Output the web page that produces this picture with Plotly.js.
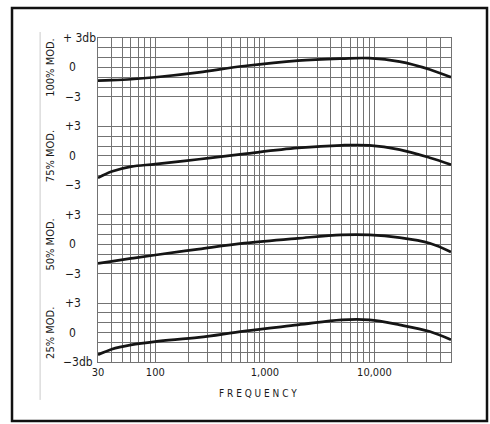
<!DOCTYPE html>
<html>
<head>
<meta charset="utf-8">
<script src="https://cdn.plot.ly/plotly-3.0.1.min.js"></script>
<style>html,body{margin:0;padding:0;background:#fff;}#chart{width:490px;height:424px;}</style>
</head>
<body>
<div id="chart"></div>
<script>
// ---- data ----
var frequency = [30, 40, 60, 100, 250, 650, 2000, 5000, 9000, 17000, 32000, 50000];
var mod100 = [-1.35, -1.3, -1.2, -1.0, -0.5, 0.15, 0.7, 0.9, 0.95, 0.6, -0.2, -1.0];
var mod75  = [-2.25, -1.6, -1.1, -0.85, -0.35, 0.2, 0.8, 1.07, 1.07, 0.63, -0.2, -0.9];
var mod50  = [-1.95, -1.75, -1.45, -1.1, -0.5, 0.1, 0.6, 0.95, 0.95, 0.67, 0.1, -0.8];
var mod25  = [-2.27, -1.7, -1.26, -0.92, -0.5, 0.15, 0.78, 1.29, 1.29, 0.78, 0.1, -0.74];
var panelNames = ['100% MOD.', '75% MOD.', '50% MOD.', '25% MOD.'];
var xTickVals = [30, 100, 1000, 10000];
var xTickText = ['30', '100', '1,000', '10,000'];
var dbLevels = [3, 0, -3];
var dbLabels = [['+ 3db', '0', '\u22123'], ['+3', '0', '\u22123'], ['+3', '0', '\u22123'], ['+3', '0', '\u22123db']];

// ---- layout helpers ----
var series = [mod100, mod75, mod50, mod25];
var panelStep = 9; // dB between panel zero lines
var FONT = 'Liberation Sans Narrow, DejaVu Sans Condensed, Arial Narrow, sans-serif';

var traces = series.map(function (s, k) {
  var off = -panelStep * k;
  return {
    x: frequency,
    y: s.map(function (v) { return v + off; }),
    type: 'scatter', mode: 'lines',
    line: {color: '#151515', width: 2.7, shape: 'spline', smoothing: 1},
    hoverinfo: 'skip', showlegend: false
  };
});

// vertical log grid
var xGrid = [];
[10, 100, 1000, 10000].forEach(function (d) {
  for (var m = 1; m <= 9; m++) {
    var v = d * m;
    if (v >= 30 && v <= 50000) xGrid.push(v);
  }
});
var xText = xGrid.map(function (v) {
  var i = xTickVals.indexOf(v);
  return i >= 0 ? xTickText[i] : '';
});

// horizontal grid (1 dB steps only inside each panel)
var yGrid = [];
series.forEach(function (s, k) {
  for (var d = -3; d <= 3; d++) yGrid.push(d - panelStep * k);
});

var annotations = [];
series.forEach(function (s, k) {
  var off = -panelStep * k;
  annotations.push({
    xref: 'paper', yref: 'y', x: -0.135, y: off, text: panelNames[k],
    textangle: -90, showarrow: false, xanchor: 'center', yanchor: 'middle',
    font: {family: FONT, size: 11, color: '#1a1a1a'}
  });
  dbLevels.forEach(function (lv, j) {
    var t = dbLabels[k][j];
    var hasDb = t.indexOf('db') >= 0;
    annotations.push({
      xref: 'paper', yref: 'y', x: hasDb ? -0.104 : -0.071, y: lv + off, text: t,
      showarrow: false, xanchor: hasDb ? 'left' : 'center', yanchor: 'middle',
      font: {family: FONT, size: 12, color: '#1a1a1a'}
    });
  });
});
annotations.push({
  xref: 'paper', yref: 'paper', x: 0.452, y: -0.098, text: 'F R E Q U E N C Y',
  showarrow: false, xanchor: 'center', yanchor: 'middle',
  font: {family: FONT, size: 10, color: '#1a1a1a'}
});

var layout = {
  width: 490, height: 424,
  margin: {l: 98, r: 39, t: 38, b: 62},
  paper_bgcolor: '#fff', plot_bgcolor: '#fff',
  showlegend: false,
  xaxis: {
    type: 'log', range: [Math.log10(30), Math.log10(50000)],
    tickmode: 'array', tickvals: xGrid, ticktext: xText,
    showgrid: true, gridcolor: '#737373', gridwidth: 1,
    showline: true, mirror: true, linecolor: '#737373', linewidth: 1,
    ticks: '', zeroline: false,
    tickfont: {family: FONT, size: 11, color: '#1a1a1a'}
  },
  yaxis: {
    range: [-3 - panelStep * 3, 3],
    tickmode: 'array', tickvals: yGrid, showticklabels: false,
    showgrid: true, gridcolor: '#737373', gridwidth: 1,
    showline: true, mirror: true, linecolor: '#737373', linewidth: 1,
    ticks: '', zeroline: false
  },
  annotations: annotations,
  shapes: [
    {type: 'rect', xref: 'paper', yref: 'paper', x0: -0.2436, x1: 1.102, y0: -0.182, y1: 1.0926,
     line: {color: '#111', width: 2.5}, fillcolor: 'rgba(0,0,0,0)'},
    {type: 'line', xref: 'paper', yref: 'paper', x0: -0.164, x1: -0.164, y0: -0.117, y1: 1.0185,
     line: {color: '#cccccc', width: 1}}
  ]
};

Plotly.newPlot('chart', traces, layout, {staticPlot: true, displayModeBar: false});
</script>
</body>
</html>
